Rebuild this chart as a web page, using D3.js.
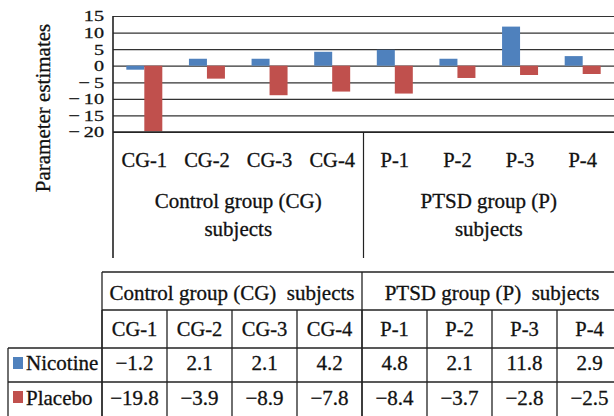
<!DOCTYPE html>
<html>
<head>
<meta charset="utf-8">
<script src="https://cdn.jsdelivr.net/npm/d3@7"></script>
<style>
  body { margin: 0; background: #fff; }
  svg { display: block; }
  text { font-family: "Liberation Serif", "Times New Roman", serif; fill: #111; stroke: #111; stroke-width: 0.3px; }
</style>
</head>
<body>
<div id="chart"></div>
<script>
// subjects and their estimates
const subjects = ["CG-1", "CG-2", "CG-3", "CG-4", "P-1", "P-2", "P-3", "P-4"];
const subjectGroup = ["CG", "CG", "CG", "CG", "P", "P", "P", "P"];
const groupKeys = ["CG", "P"];
const groupLabels = ["Control group (CG)", "PTSD group (P)"];
const seriesNames = ["Nicotine", "Placebo"];
const nicotine = [-1.2, 2.1, 2.1, 4.2, 4.8, 2.1, 11.8, 2.9];
const placebo = [-19.8, -3.9, -8.9, -7.8, -8.4, -3.7, -2.8, -2.5];
const yTicks = [-20, -15, -10, -5, 0, 5, 10, 15];

const width = 614,
    height = 416;

const colors = { Nicotine: "#4f81bd", Placebo: "#c0504d" };
const lineColor = "#222";
const fontSize = 21;

const margin = { top: 16, left: 113, right: 0 };
const plotBottom = 132;
const labelBottom = 258;

const svg = d3.select("#chart")
    .append("svg")
    .attr("width", width)
    .attr("height", height)
    .attr("viewBox", [0, 0, width, height]);

let x0 = d3.scaleBand()
    .domain(subjects)
    .range([margin.left, width - margin.right])
    .padding(0);

let x1 = d3.scaleBand()
    .domain(seriesNames)
    .range([0, x0.bandwidth()])
    .paddingInner(0)
    .paddingOuter(0.74);

let y = d3.scaleLinear()
    .domain([d3.min(yTicks), d3.max(yTicks)])
    .range([plotBottom, margin.top]);

// gridlines
svg.append("g")
    .attr("class", "grid")
    .attr("transform", `translate(${margin.left},0)`)
    .call(d3.axisLeft(y).tickValues(yTicks).tickSize(-(width - margin.left)).tickFormat(""))
    .call(g => g.select(".domain").remove())
    .call(g => g.selectAll("line").attr("stroke", "#333").attr("stroke-width", 1.2));

// bars
let rows = subjects.map((s, i) => ({ subject: s, values: [
    { key: "Nicotine", value: nicotine[i] },
    { key: "Placebo", value: placebo[i] }
]}));

svg.append("g")
    .selectAll("g")
    .data(rows)
    .join("g")
    .attr("transform", d => `translate(${x0(d.subject)},0)`)
    .selectAll("rect")
    .data(d => d.values)
    .join("rect")
    .attr("x", d => x1(d.key))
    .attr("width", x1.bandwidth())
    .attr("y", d => y(Math.max(0, d.value)))
    .attr("height", d => Math.abs(y(d.value) - y(0)))
    .attr("fill", d => colors[d.key]);

// y tick labels (the source font is wide and short, so stretch a smaller size)
let tickFmt = d => d < 0 ? "\u2212\u2009" + Math.abs(d) : String(d);
svg.append("g")
    .attr("transform", `translate(${margin.left},0)`)
    .call(d3.axisLeft(y).tickValues(yTicks).tickSize(0).tickPadding(9).tickFormat(tickFmt))
    .call(g => g.select(".domain").remove())
    .call(g => g.selectAll("text")
        .style("font-family", "'Liberation Serif', serif")
        .attr("font-size", 15.5)
        .attr("fill", "#111")
        .attr("x", 0)
        .attr("transform", "translate(-9,0) scale(1.3,1)"));

// axis frame: left line, bottom line, separator between groups
svg.append("line")
    .attr("x1", margin.left).attr("x2", margin.left)
    .attr("y1", margin.top).attr("y2", labelBottom)
    .attr("stroke", lineColor).attr("stroke-width", 1.6);
svg.append("line")
    .attr("x1", margin.left).attr("x2", width)
    .attr("y1", plotBottom).attr("y2", plotBottom)
    .attr("stroke", lineColor).attr("stroke-width", 1.4);

let groupStart = groupKeys.map(k => x0(subjects[subjectGroup.indexOf(k)]));
let groupEnd = groupKeys.map(k => x0(subjects[subjectGroup.lastIndexOf(k)]) + x0.bandwidth());

svg.append("g")
    .selectAll("line")
    .data(groupStart.slice(1))
    .join("line")
    .attr("x1", d => d).attr("x2", d => d)
    .attr("y1", plotBottom).attr("y2", labelBottom)
    .attr("stroke", lineColor).attr("stroke-width", 1.2);

// category labels
svg.append("g")
    .selectAll("text")
    .data(subjects)
    .join("text")
    .attr("x", d => x0(d) + x0.bandwidth() / 2)
    .attr("y", 167)
    .attr("text-anchor", "middle")
    .attr("font-size", 20.5)
    .text(d => d);

// group labels (two lines)
let groupText = svg.append("g")
    .selectAll("text")
    .data(groupKeys)
    .join("text")
    .attr("text-anchor", "middle")
    .attr("font-size", fontSize);
groupText.append("tspan")
    .attr("x", (d, i) => (groupStart[i] + groupEnd[i]) / 2)
    .attr("y", 208)
    .text((d, i) => groupLabels[i]);
groupText.append("tspan")
    .attr("x", (d, i) => (groupStart[i] + groupEnd[i]) / 2)
    .attr("y", 236)
    .text("subjects");

// y axis title
svg.append("text")
    .attr("transform", "translate(50,108) rotate(-90)")
    .attr("text-anchor", "middle")
    .attr("font-size", fontSize)
    .text("Parameter estimates");

// ---- data table under the chart ----
const tableLeft = 102,
    tableRight = 622,
    legendLeft = 8;
const rowY = [272, 310, 348, 382, 418];

let tx = d3.scaleBand()
    .domain(subjects)
    .range([tableLeft, tableRight]);

let fmt = d3.format(".1f");

let table = svg.append("g").attr("class", "table");

let hline = (x1v, x2v, yv) => table.append("line")
    .attr("x1", x1v).attr("x2", x2v).attr("y1", yv).attr("y2", yv)
    .attr("stroke", lineColor).attr("stroke-width", 1.3);
let vline = (xv, y1v, y2v) => table.append("line")
    .attr("x1", xv).attr("x2", xv).attr("y1", y1v).attr("y2", y2v)
    .attr("stroke", lineColor).attr("stroke-width", 1.3);

hline(tableLeft, tableRight, rowY[0]);
hline(tableLeft, tableRight, rowY[1]);
hline(legendLeft, tableRight, rowY[2]);
hline(legendLeft, tableRight, rowY[3]);
hline(legendLeft, tableRight, rowY[4]);

// group header borders
let tGroupStart = groupKeys.map(k => tx(subjects[subjectGroup.indexOf(k)]));
tGroupStart.concat([tableRight]).forEach(xv => vline(xv, rowY[0], rowY[4]));
// subject column borders
subjects.forEach(s => vline(tx(s), rowY[1], rowY[4]));
vline(legendLeft, rowY[2], rowY[4]);

// group header text
let tGroupEnd = tGroupStart.slice(1).concat([tableRight]);
table.append("g")
    .selectAll("text")
    .data(groupKeys)
    .join("text")
    .attr("x", (d, i) => (tGroupStart[i] + tGroupEnd[i]) / 2)
    .attr("y", 300)
    .attr("text-anchor", "middle")
    .attr("font-size", fontSize)
    .style("white-space", "pre")
    .text((d, i) => groupLabels[i] + "  subjects");

// subject header text
table.append("g")
    .selectAll("text")
    .data(subjects)
    .join("text")
    .attr("x", d => tx(d) + tx.bandwidth() / 2)
    .attr("y", 336)
    .attr("text-anchor", "middle")
    .attr("font-size", 20.5)
    .text(d => d);

// data rows
let seriesRows = [
    { key: "Nicotine", values: nicotine, baseline: 370 },
    { key: "Placebo", values: placebo, baseline: 405 }
];

seriesRows.forEach((r, ri) => {
    table.append("rect")
        .attr("x", 13)
        .attr("y", rowY[2 + ri] + 9)
        .attr("width", 10)
        .attr("height", 12)
        .attr("fill", colors[r.key]);
    table.append("text")
        .attr("x", 26)
        .attr("y", r.baseline)
        .attr("font-size", fontSize)
        .text(r.key);
    table.append("g")
        .selectAll("text")
        .data(r.values)
        .join("text")
        .attr("x", (d, i) => tx(subjects[i]) + tx.bandwidth() / 2)
        .attr("y", r.baseline)
        .attr("text-anchor", "middle")
        .attr("font-size", fontSize)
        .text(d => fmt(d));
});
</script>
</body>
</html>
